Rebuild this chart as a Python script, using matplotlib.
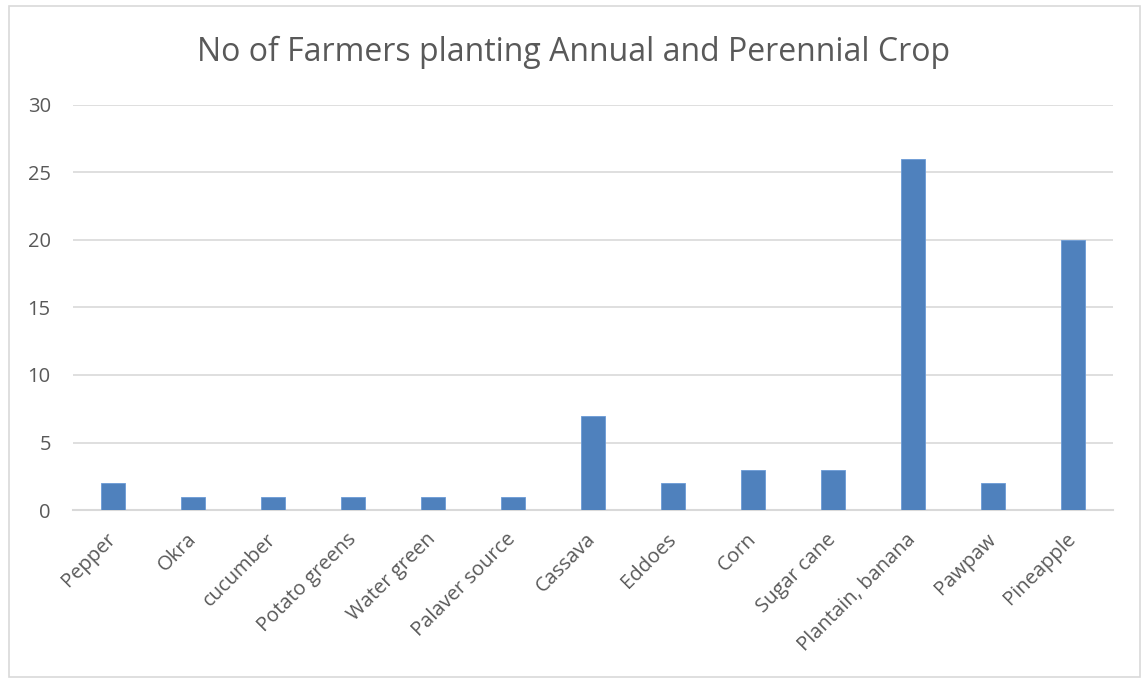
import matplotlib.pyplot as plt
from matplotlib.patches import Rectangle

crops = ["Pepper", "Okra", "cucumber", "Potato greens", "Water green",
         "Palaver source", "Cassava", "Eddoes", "Corn", "Sugar cane",
         "Plantain, banana", "Pawpaw", "Pineapple"]
farmers = [2, 1, 1, 1, 1, 1, 7, 2, 3, 3, 26, 2, 20]
y_ticks = [0, 5, 10, 15, 20, 25, 30]

plt.rcParams['font.family'] = ['Open Sans', 'DejaVu Sans']
text_col = '#595959'
grid_col = '#d9d9d9'

fig = plt.figure(figsize=(11.48, 6.78), dpi=100)
ax = fig.add_axes([73/1148, 1 - 510/678, 1040/1148, 405/678])

x = range(len(crops))
ax.bar(x, farmers, width=0.31, color='#4f81bd', edgecolor='#6b9bd6', linewidth=0.6, zorder=3)

ax.set_xlim(-0.5, len(crops) - 0.5)
ax.set_ylim(0, 30)
ax.set_yticks(y_ticks)
ax.set_xticks(list(x))
ax.set_xticklabels(crops, rotation=45, ha='right', va='center', rotation_mode='anchor')
ax.tick_params(axis='x', length=0, pad=19, labelsize=14.5, colors=text_col)
ax.tick_params(axis='y', length=0, pad=16, labelsize=14.5, colors=text_col)

ax.grid(axis='y', color=grid_col, linewidth=1.2, zorder=0)
for side in ['top', 'right', 'left']:
    ax.spines[side].set_visible(False)
ax.spines['bottom'].set_color(grid_col)
ax.spines['bottom'].set_linewidth(1.5)

fig.text(0.5, 1 - 52/678, "No of Farmers planting Annual and Perennial Crop",
         ha='center', va='center', fontsize=23, color=text_col)

# thin frame round the chart area
fig.patches.append(Rectangle((9/1148, 1 - 677/678), 1131/1148, 671/678,
                             transform=fig.transFigure, fill=False,
                             edgecolor='#d9d9d9', linewidth=1.2))

fig.savefig('out.png', dpi=100)
